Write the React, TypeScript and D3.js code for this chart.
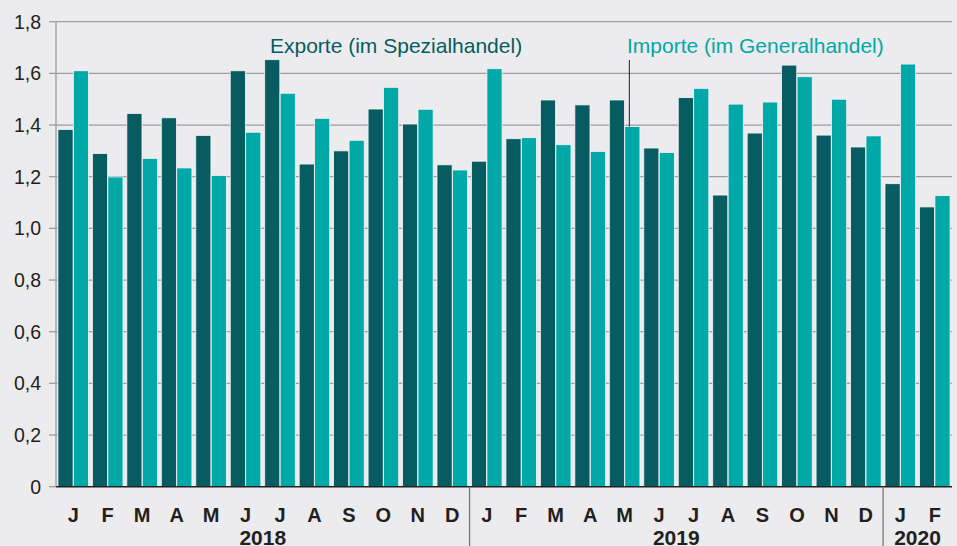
import React from "react";
import * as d3 from "d3";

const months = ["J","F","M","A","M","J","J","A","S","O","N","D","J","F","M","A","M","J","J","A","S","O","N","D","J","F"];
const years = [
  { label: "2018", start: 0, end: 12 },
  { label: "2019", start: 12, end: 24 },
  { label: "2020", start: 24, end: 26 },
];
const exporte = [1.383,1.290,1.445,1.428,1.360,1.610,1.653,1.249,1.300,1.462,1.404,1.246,1.260,1.347,1.497,1.478,1.497,1.311,1.506,1.129,1.369,1.632,1.361,1.315,1.173,1.083];
const importe = [1.610,1.199,1.271,1.234,1.205,1.372,1.523,1.426,1.341,1.546,1.461,1.226,1.618,1.351,1.324,1.298,1.394,1.294,1.542,1.481,1.489,1.587,1.500,1.358,1.636,1.127];
const yTicks = [0,0.2,0.4,0.6,0.8,1.0,1.2,1.4,1.6,1.8];

const W = 957, H = 546;
const left = 56, right = 952, top = 21.7, bottom = 486.7;
const cExp = "#065c61", cImp = "#00a8a7";

export default function App() {
  const idx = months.map((_, i) => i);
  const x = d3.scaleBand<number>().domain(idx).range([left, right]).paddingInner(0).paddingOuter(0);
  const inner = d3.scaleBand<string>().domain(["e","i"]).range([0, x.bandwidth()]).paddingOuter(0.125).paddingInner(0.02);
  const y = d3.scaleLinear().domain([0, 1.8]).range([bottom, top]);
  const fmt = (v: number) => (v === 0 ? "0" : d3.format(".1f")(v).replace(".", ","));
  const font = "'Liberation Sans', Arial, Helvetica, sans-serif";

  return (
    <svg width={W} height={H} style={{ position: "absolute", left: 0, top: 0, background: "#ececee", fontFamily: font }}>
      <rect x={0} y={0} width={W} height={H} fill="#ececee" />
      {yTicks.map((t) => (
        <g key={t}>
          {t > 0 && <line x1={left} x2={right} y1={y(t)} y2={y(t)} stroke="#9d9d9f" strokeWidth={1.3} />}
          <line x1={49} x2={left} y1={y(t)} y2={y(t)} stroke="#9d9d9f" strokeWidth={1.3} />
          <text x={41} y={y(t) + 6.8} textAnchor="end" fontSize={19.5} fill="#231f20">{fmt(t)}</text>
        </g>
      ))}
      <line x1={left} x2={left} y1={top} y2={bottom} stroke="#9d9d9f" strokeWidth={1.3} />
      {idx.map((i) => (
        <g key={i}>
          <rect x={(x(i) as number) + (inner("e") as number)} y={y(exporte[i])} width={inner.bandwidth()} height={bottom - y(exporte[i])} fill={cExp} stroke="#f4f4f4" strokeWidth={0.8} />
          <rect x={(x(i) as number) + (inner("i") as number)} y={y(importe[i])} width={inner.bandwidth()} height={bottom - y(importe[i])} fill={cImp} stroke="#f4f4f4" strokeWidth={0.8} />
          <text x={(x(i) as number) + x.bandwidth() / 2} y={522} textAnchor="middle" fontSize={20} fontWeight="bold" fill="#231f20">{months[i]}</text>
        </g>
      ))}
      <line x1={left} x2={right} y1={bottom} y2={bottom} stroke="#231f20" strokeWidth={1.6} />
      {years.map((yr) => (
        <g key={yr.label}>
          {yr.start > 0 && <line x1={x(yr.start) as number} x2={x(yr.start) as number} y1={bottom} y2={H} stroke="#777" strokeWidth={1.3} />}
          <text x={((x(yr.start) as number) + (yr.end < 26 ? (x(yr.end) as number) : right)) / 2} y={545} textAnchor="middle" fontSize={21} fontWeight="bold" fill="#231f20">{yr.label}</text>
        </g>
      ))}
      <text x={270} y={53} fontSize={21} fill={cExp}>Exporte (im Spezialhandel)</text>
      <text x={627} y={53} fontSize={21} fill={cImp}>Importe (im Generalhandel)</text>
      <line x1={(x(16) as number) + (inner("i") as number) + inner.bandwidth() / 2 - 3} x2={(x(16) as number) + (inner("i") as number) + inner.bandwidth() / 2 - 3} y1={60} y2={y(importe[16])} stroke="#231f20" strokeWidth={1} />
    </svg>
  );
}
